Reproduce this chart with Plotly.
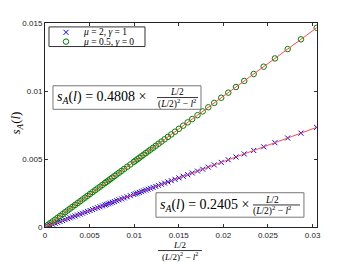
import plotly.graph_objects as go

# ---------------- data ----------------
x_vals = [0.03046, 0.02870, 0.02721, 0.02578, 0.02452, 0.02340, 0.02234, 0.02141,
          0.02055, 0.01976, 0.01898, 0.01831, 0.01768, 0.01710, 0.01651, 0.01600,
          0.01550, 0.01502,
          0.01458, 0.01416, 0.01378, 0.01341, 0.01306, 0.01273, 0.01242, 0.01212,
          0.01183, 0.01156, 0.01130, 0.01105, 0.01081, 0.01058, 0.01036, 0.01015,
          0.00995, 0.00957, 0.00922, 0.00889, 0.00859, 0.00830, 0.00803, 0.00778,
          0.00754, 0.00732, 0.00711, 0.00691, 0.00672,
          0.00645, 0.00617, 0.00589, 0.00561, 0.00533, 0.00505, 0.00477, 0.00449,
          0.00421, 0.00393, 0.00365, 0.00337, 0.00309, 0.00281, 0.00253, 0.00225,
          0.00197, 0.00169, 0.00141, 0.00113, 0.00085, 0.00057, 0.00035]

y_mu05 = [0.014645, 0.013799, 0.013083, 0.012395, 0.011789, 0.011251, 0.010741, 0.010294,
          0.009880, 0.009501, 0.009126, 0.008803, 0.008500, 0.008222, 0.007938, 0.007693,
          0.007452, 0.007222,
          0.007010, 0.006808, 0.006625, 0.006448, 0.006279, 0.006121, 0.005971, 0.005827,
          0.005688, 0.005558, 0.005433, 0.005313, 0.005197, 0.005087, 0.004981, 0.004880,
          0.004784, 0.004601, 0.004433, 0.004274, 0.004130, 0.003991, 0.003861, 0.003741,
          0.003625, 0.003519, 0.003418, 0.003322, 0.003231,
          0.003101, 0.002967, 0.002832, 0.002697, 0.002563, 0.002428, 0.002293, 0.002159,
          0.002024, 0.001890, 0.001755, 0.001620, 0.001486, 0.001351, 0.001216, 0.001082,
          0.000947, 0.000813, 0.000678, 0.000543, 0.000409, 0.000274, 0.000168]

y_mu2 = [0.007323, 0.006902, 0.006544, 0.006200, 0.005897, 0.005628, 0.005373, 0.005149,
         0.004942, 0.004752, 0.004565, 0.004404, 0.004252, 0.004113, 0.003971, 0.003848,
         0.003728, 0.003612,
         0.003506, 0.003405, 0.003314, 0.003225, 0.003141, 0.003062, 0.002987, 0.002915,
         0.002845, 0.002780, 0.002718, 0.002658, 0.002600, 0.002544, 0.002492, 0.002441,
         0.002393, 0.002302, 0.002217, 0.002138, 0.002066, 0.001996, 0.001931, 0.001871,
         0.001813, 0.001760, 0.001710, 0.001662, 0.001616,
         0.001551, 0.001484, 0.001417, 0.001349, 0.001282, 0.001215, 0.001147, 0.001080,
         0.001013, 0.000945, 0.000878, 0.000810, 0.000743, 0.000676, 0.000608, 0.000541,
         0.000474, 0.000406, 0.000339, 0.000272, 0.000204, 0.000137, 0.000084]

fit_x = [0.0, 0.03046]
fit_mu05 = [0.0, 0.014645]
fit_mu2 = [0.0, 0.007326]

legend_labels = ["<i>μ</i> = 2, <i>γ</i> = 1", "<i>μ</i> = 0.5, <i>γ</i> = 0"]
slope_labels = ["0.4808", "0.2405"]

x_tickvals = [0, 0.005, 0.01, 0.015, 0.02, 0.025, 0.03]
x_ticktext = ["0", "0.005", "0.01", "0.015", "0.02", "0.025", "0.03"]
y_tickvals = [0, 0.005, 0.01, 0.015]
y_ticktext = ["0", "0.005", "0.01", "0.015"]

# ---------------- figure ----------------
BLUE = "#0000ff"
GREEN = "#008000"
RED = "#ff4a4a"
SERIF = "Liberation Serif"
SANS = "Liberation Sans"

fig = go.Figure()

fig.add_trace(go.Scatter(x=x_vals, y=y_mu2, mode="markers", name=legend_labels[0],
                         marker=dict(symbol="x-thin-open", size=5,
                                     line=dict(color=BLUE, width=1), color=BLUE)))
fig.add_trace(go.Scatter(x=x_vals, y=y_mu05, mode="markers", name=legend_labels[1],
                         marker=dict(symbol="circle-open", size=5.5,
                                     line=dict(color=GREEN, width=1), color=GREEN)))
fig.add_trace(go.Scatter(x=fit_x, y=fit_mu2, mode="lines", showlegend=False,
                         line=dict(color=RED, width=1)))
fig.add_trace(go.Scatter(x=fit_x, y=fit_mu05, mode="lines", showlegend=False,
                         line=dict(color=RED, width=1)))

# legend markers on an overlay axis that spans the plot area [0,1]
fig.add_trace(go.Scatter(x=[0.0772], y=[0.9543], mode="markers", xaxis="x2", yaxis="y2",
                         showlegend=False, cliponaxis=False,
                         marker=dict(symbol="x-thin-open", size=5,
                                     line=dict(color=BLUE, width=1), color=BLUE)))
fig.add_trace(go.Scatter(x=[0.0772], y=[0.9087], mode="markers", xaxis="x2", yaxis="y2",
                         showlegend=False, cliponaxis=False,
                         marker=dict(symbol="circle-open", size=5.5,
                                     line=dict(color=GREEN, width=1), color=GREEN)))

axis_common = dict(ticks="inside", ticklen=3, tickwidth=1, tickcolor="#333",
                   mirror="ticks", showline=True, linecolor="#222", linewidth=1,
                   showgrid=False, zeroline=False,
                   tickfont=dict(family=SANS, size=8, color="#222"))

# the page body has an 8px margin, so the figure is 8px smaller and shifted
fig.update_layout(
    width=342, height=254,
    margin=dict(l=37, r=33, t=11, b=35, pad=0),
    paper_bgcolor="white", plot_bgcolor="white",
    showlegend=False,
    xaxis=dict(range=[0, 0.0305], tickvals=x_tickvals, ticktext=x_ticktext, **axis_common),
    yaxis=dict(range=[0, 0.015], tickvals=y_tickvals, ticktext=y_ticktext, **axis_common),
    xaxis2=dict(overlaying="x", range=[0, 1], visible=False, fixedrange=True),
    yaxis2=dict(overlaying="y", range=[0, 1], visible=False, fixedrange=True),
)

shapes = []
annots = []

# legend box
shapes.append(dict(type="rect", xref="paper", yref="paper", x0=0.0147, x1=0.3676,
                   y0=0.8846, y1=0.9808, line=dict(color="#333", width=1),
                   fillcolor="white", layer="below"))
for lab, yy in zip(legend_labels, [0.9543, 0.9087]):
    annots.append(dict(xref="paper", yref="paper", x=0.132, y=yy, xanchor="left",
                       yanchor="middle", text=lab, showarrow=False,
                       font=dict(family=SERIF, size=9.5, color="black")))


def fraction_box(x0, x1, y0, y1, tx, ty, slope, nx, bar_x0, bar_x1, bar_y, ny, dy):
    shapes.append(dict(type="rect", xref="paper", yref="paper", x0=x0, x1=x1,
                       y0=y0, y1=y1, line=dict(color="#777", width=1),
                       fillcolor="white", layer="below"))
    annots.append(dict(xref="paper", yref="paper", x=tx, y=ty, xanchor="left",
                       yanchor="middle", showarrow=False,
                       text="<i>s</i><sub><i>A</i></sub>(<i>l</i>) = " + slope + " ×",
                       font=dict(family=SERIF, size=14, color="black")))
    annots.append(dict(xref="paper", yref="paper", x=nx, y=ny, xanchor="center",
                       yanchor="middle", showarrow=False, text="<i>L</i>/2",
                       font=dict(family=SERIF, size=9.5, color="black")))
    shapes.append(dict(type="line", xref="paper", yref="paper", x0=bar_x0, x1=bar_x1,
                       y0=bar_y, y1=bar_y, line=dict(color="black", width=0.8)))
    annots.append(dict(xref="paper", yref="paper", x=nx, y=dy, xanchor="center",
                       yanchor="middle", showarrow=False,
                       text="(<i>L</i>/2)<sup>2</sup> − <i>l</i><sup>2</sup>",
                       font=dict(family=SERIF, size=9.5, color="black")))


fraction_box(0.0294, 0.5735, 0.5769, 0.6923, 0.0368, 0.6346, slope_labels[0],
             0.485, 0.412, 0.5625, 0.6346, 0.663, 0.603)
fraction_box(0.408, 0.952, 0.048, 0.168, 0.4154, 0.1058, slope_labels[1],
             0.8346, 0.7647, 0.9375, 0.108, 0.1346, 0.0817)

# x-axis label (fraction)
annots.append(dict(xref="paper", yref="paper", x=0.496, y=-0.0865, xanchor="center",
                   yanchor="middle", showarrow=False, text="<i>L</i>/2",
                   font=dict(family=SERIF, size=9, color="black")))
shapes.append(dict(type="line", xref="paper", yref="paper", x0=0.415, x1=0.577,
                   y0=-0.1154, y1=-0.1154, line=dict(color="black", width=0.8)))
annots.append(dict(xref="paper", yref="paper", x=0.496, y=-0.141, xanchor="center",
                   yanchor="middle", showarrow=False,
                   text="(<i>L</i>/2)<sup>2</sup> − <i>l</i><sup>2</sup>",
                   font=dict(family=SERIF, size=9, color="black")))

# y-axis label
annots.append(dict(xref="paper", yref="paper", x=-0.105, y=0.5096, xanchor="center",
                   yanchor="middle", showarrow=False, textangle=-90,
                   text="<i>s</i><sub><i>A</i></sub>(<i>l</i>)",
                   font=dict(family=SERIF, size=13, color="black")))

fig.update_layout(shapes=shapes, annotations=annots)
fig.write_html("out.html")
